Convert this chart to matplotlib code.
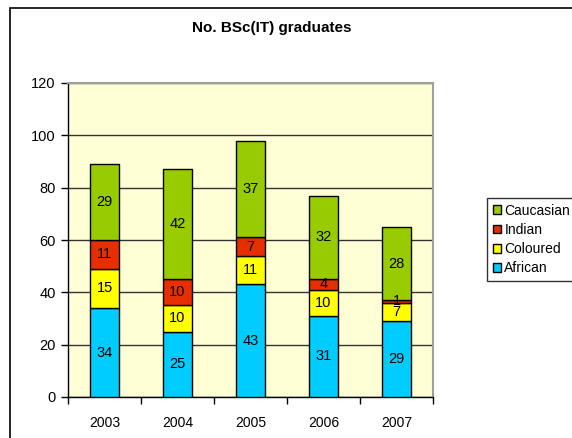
import numpy as np
import matplotlib
matplotlib.use("Agg")
import matplotlib.pyplot as plt
from matplotlib.patches import Rectangle

plt.rcParams['font.family'] = ['Liberation Sans', 'DejaVu Sans']

# data
years = ["2003", "2004", "2005", "2006", "2007"]
african = [34, 25, 43, 31, 29]
coloured = [15, 10, 11, 10, 7]
indian = [11, 10, 7, 4, 1]
caucasian = [29, 42, 37, 32, 28]

series = [("African", african, "#00CCFF"),
          ("Coloured", coloured, "#FFFF00"),
          ("Indian", indian, "#E62E00"),
          ("Caucasian", caucasian, "#99CC00")]

W, H = 572, 438
fig = plt.figure(figsize=(W / 100, H / 100), dpi=100)

# outer chart border (only top/left visible)
fig.patches.append(Rectangle((9.5 / W, -0.1), 1.2, (H - 8) / H + 0.1,
                             transform=fig.transFigure, fill=False,
                             edgecolor="black", lw=1.2))

ax = fig.add_axes([68 / W, (H - 397) / H, (433 - 68) / W, (397 - 83) / H])
ax.set_facecolor("#FFFFD6")

x = np.arange(len(years))
bottom = np.zeros(len(years))
handles = []
for name, vals, col in series:
    vals = np.array(vals)
    b = ax.bar(x, vals, 0.41, bottom=bottom, color=col, edgecolor="black",
               linewidth=1.0, label=name, zorder=3)
    handles.append(b)
    for xi, v, bt in zip(x, vals, bottom):
        ax.text(xi, bt + v / 2, str(v), ha="center", va="center",
                fontsize=10.5, zorder=4)
    bottom += vals

ax.set_xlim(-0.5, len(years) - 0.5)
ax.set_ylim(0, 120)
ax.set_yticks(range(0, 121, 20))
ax.set_xticks(np.arange(len(years) + 1) - 0.5, minor=False)
ax.set_xticklabels([])
ax.set_xticks(x, minor=True)
ax.set_xticklabels(years, minor=True)
ax.tick_params(axis="x", which="minor", length=0, pad=14, labelsize=10)
ax.tick_params(axis="x", which="major", direction="out", length=5, width=1)
ax.tick_params(axis="y", direction="out", length=5, width=1, labelsize=10.5, pad=4)
ax.grid(axis="y", color="#333333", lw=1.0, zorder=1)

for s in ["top", "right"]:
    ax.spines[s].set_color("#A0A0A0")
    ax.spines[s].set_linewidth(1.5)
for s in ["left", "bottom"]:
    ax.spines[s].set_color("black")
    ax.spines[s].set_linewidth(1.0)

fig.text(272 / W, 1 - 28 / H, "No. BSc(IT) graduates",
         ha="center", va="center", fontsize=11, fontweight="bold")

leg = fig.legend(handles[::-1], [s[0] for s in series[::-1]],
                 loc="upper left", bbox_to_anchor=(487 / W, 1 - 198 / H),
                 fontsize=10, frameon=True, fancybox=False, edgecolor="black",
                 handlelength=0.6, handleheight=0.6, handletextpad=0.25,
                 labelspacing=0.38, borderpad=0.4, borderaxespad=0)
leg.get_frame().set_linewidth(1.0)

fig.savefig("out.png", dpi=100)
